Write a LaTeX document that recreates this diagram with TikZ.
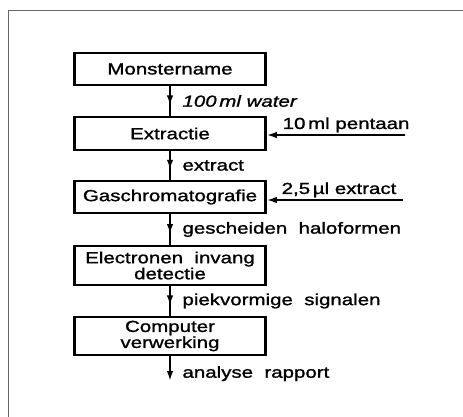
\documentclass[tikz,border=0pt]{standalone}
\usepackage{fontspec}
\setmainfont{Liberation Sans}[FakeStretch=1.28,FakeBold=1.3]
\usetikzlibrary{arrows.meta,decorations.markings}
\begin{document}
\begin{tikzpicture}[x=1pt,y=-1pt,>={Latex[length=10pt,width=6.5pt]},
  blok/.style={draw,line width=2.6pt,minimum width=191pt,inner sep=0pt,align=center,
    font=\fontsize{16}{16}\selectfont},
  lbl/.style={font=\fontsize{16}{16}\selectfont,inner sep=2.5pt},
  stroom/.style={line width=2pt,postaction={decorate},
    decoration={markings,mark=at position .65 with {\arrow{>}}}}]
\useasboundingbox (0,0) rectangle (463,417);
% Kader (alleen boven en links)
\draw[gray!80!black,line width=0.8pt] (463,10) -- (8,10) -- (8,417);
% Blokken
\node[blok,minimum height=32pt] (mon) at (170,69)    {Monstername};
\node[blok,minimum height=33pt] (ext) at (170,133.5) {Extractie};
\node[blok,minimum height=32pt] (gas) at (170,197)   {Gaschromatografie};
\node[blok,minimum height=39pt] (eid) at (170,265.5) {Electronen\ \ invang\\detectie};
\node[blok,minimum height=38pt] (com) at (170,336)   {Computer\\verwerking};
% Toevoer van rechts
\coordinate (pent) at (405,135);
\coordinate (inj)  at (403,200);
\coordinate (eind) at (170,381);
% Stroom tussen de blokken
\draw[stroom] (mon) -- (ext) node[lbl,midway,anchor=west,xshift=9pt] (lwater) {\itshape 100\,ml water};
\draw[stroom] (ext) -- (gas) node[lbl,midway,anchor=west,xshift=9pt] (lextr) {extract};
\draw[stroom] (gas) -- (eid) node[lbl,midway,anchor=west,xshift=9pt] (lhalo) {gescheiden\ \ haloformen};
\draw[stroom] (eid) -- (com) node[lbl,midway,anchor=west,xshift=9pt] (lsign) {piekvormige\ \ signalen};
\draw[line width=2pt,->] (com) -- (eind) node[lbl,pos=.7,anchor=west,xshift=9pt] (lrapp) {analyse\ \ rapport};
% Pijlen van rechts
\draw[line width=1.8pt,->] (pent) -- (pent -| ext.east);
\draw[line width=1.8pt,->] (inj) -- (inj -| gas.east);
\node[lbl,anchor=south west] (lpent) at (280,135) {10\,ml pentaan};
\node[lbl,anchor=south west] (linj)  at (279,200) {2,5\,µl extract};
\end{tikzpicture}
\end{document}
